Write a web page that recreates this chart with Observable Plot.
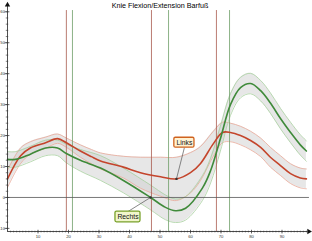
<!DOCTYPE html>
<html><head><meta charset="utf-8">
<script src="https://cdn.jsdelivr.net/npm/d3@7"></script>
<script src="https://cdn.jsdelivr.net/npm/@observablehq/plot@0.6"></script>
<style>body{margin:0;background:#fff}svg{display:block}</style>
</head><body><div id="chart"></div>
<script>
const title = "Knie Flexion/Extension Barfuß";
const xTicks = [10, 20, 30, 40, 50, 60, 70, 80, 90];
const yTicks = [-10, 0, 10, 20, 30, 40, 50, 60];
const xDomain = [0, 100];
const yDomain = [-11, 63];

// Links (red): % gait cycle, mean angle, standard deviation
const linksX    = [0, 4.3, 7.5, 12.5, 16.4, 19.3, 23.9, 27.5, 30.5, 38, 43.6, 50.2, 55.4, 60, 63.3, 67.5, 70.5, 73.1, 76.4, 79.7, 83, 86.2, 89.5, 92.8, 96, 98];
const linksMean = [6, 13.5, 16, 17.7, 19, 17.7, 15, 13.2, 11.8, 9.8, 8, 6.7, 6, 8, 11, 17.4, 21, 21, 20, 18.4, 16.2, 13, 10.3, 7.7, 6.3, 6];
const linksSd   = [2.8, 2.5, 2, 1.8, 1.5, 1.5, 2, 2.3, 2.6, 3.5, 5, 6.3, 7, 6.5, 5.5, 4, 3.3, 3, 3, 3, 3, 3.2, 3.2, 3.2, 3.2, 3.2];

// Rechts (green)
const rechtsX    = [0, 2.6, 7.5, 12.5, 16.4, 19.3, 23.9, 30.5, 38, 46.9, 51.8, 55.1, 58.4, 63.9, 66.6, 69.8, 73.1, 76.4, 79.7, 83, 86.2, 89.5, 92.8, 96, 98];
const rechtsMean = [12.3, 12.3, 14, 16, 16, 14.2, 12, 9.5, 5.5, 0, -3.2, -4.3, -3.5, 3, 8.7, 19, 30, 35.5, 36.8, 34.5, 30.5, 25.5, 21, 17, 15];
const rechtsSd   = [2.5, 2.5, 2.5, 2.5, 2.5, 3, 3.5, 4, 4, 4, 4, 3.8, 3.8, 4, 4, 4, 3.5, 3.3, 3.3, 3.3, 3.3, 3.3, 3.3, 3.3, 3.3];

// event lines
const linksEvents = [19.3, 47.2, 68.5];
const rechtsEvents = [21.3, 52.8, 72.8];

// annotations
const labelText = ["Links", "Rechts"];
const labelAnchorX = [55.4, 46.9];
const labelAnchorY = [6, 0];
const labelX = [58, 39.5];
const labelY = [17.7, -6.3];
const labelW = [6.6, 8.2];
const labelH = [3.2, 3.5];

const links = linksX.map((x, i) => ({x, m: linksMean[i], lo: linksMean[i] - linksSd[i], hi: linksMean[i] + linksSd[i]}));
const rechts = rechtsX.map((x, i) => ({x, m: rechtsMean[i], lo: rechtsMean[i] - rechtsSd[i], hi: rechtsMean[i] + rechtsSd[i]}));
const labels = labelText.map((t, i) => ({t, ax: labelAnchorX[i], ay: labelAnchorY[i], x: labelX[i], y: labelY[i], w: labelW[i], h: labelH[i]}));

const RED = "#c4452c", GREEN = "#3f8a3a";
const curve = "catmull-rom";

const chart = Plot.plot({
  width: 312, height: 241,
  marginLeft: 7, marginRight: 0, marginTop: 2, marginBottom: 10,
  style: {fontFamily: "'Liberation Sans', Arial, sans-serif", background: "#fff"},
  x: {domain: xDomain, axis: null},
  y: {domain: yDomain, axis: null},
  marks: [
    // bands
    Plot.areaY(links, {x: "x", y1: "lo", y2: "hi", fill: "#cfcfcf", fillOpacity: 0.5, curve}),
    Plot.areaY(rechts, {x: "x", y1: "lo", y2: "hi", fill: "#cfcfcf", fillOpacity: 0.5, curve}),
    Plot.line(links, {x: "x", y: "lo", stroke: "#e8a898", strokeWidth: 0.8, curve}),
    Plot.line(links, {x: "x", y: "hi", stroke: "#e8a898", strokeWidth: 0.8, curve}),
    Plot.line(rechts, {x: "x", y: "lo", stroke: "#a8d0a0", strokeWidth: 0.8, curve}),
    Plot.line(rechts, {x: "x", y: "hi", stroke: "#a8d0a0", strokeWidth: 0.8, curve}),
    // event lines
    Plot.ruleX(linksEvents, {y1: yDomain[0], y2: 60.4, stroke: "#a85a4e", strokeWidth: 0.8}),
    Plot.ruleX(rechtsEvents, {y1: yDomain[0], y2: 60.4, stroke: "#6e9e68", strokeWidth: 0.8}),
    // zero line
    Plot.ruleY([0], {x1: 0, x2: 99, stroke: "#555", strokeWidth: 0.8}),
    // means
    Plot.line(links, {x: "x", y: "m", stroke: RED, strokeWidth: 1.6, curve}),
    Plot.line(rechts, {x: "x", y: "m", stroke: GREEN, strokeWidth: 1.6, curve}),
    // axes
    Plot.ruleX([0], {y1: yDomain[0], y2: yDomain[1] - 1, stroke: "#222", strokeWidth: 0.8}),
    Plot.ruleY([yDomain[0]], {x1: 0, x2: xDomain[1] - 1.5, stroke: "#222", strokeWidth: 0.8}),
    Plot.dot([0], {x: 0, y: yDomain[1] - 0.8, symbol: "triangle", r: 2, fill: "#111", stroke: "none"}),
    Plot.dot([0], {x: xDomain[1] - 1.2, y: yDomain[0], symbol: "triangle", rotate: 90, r: 2, fill: "#111", stroke: "none"}),
    Plot.ruleY(d3.range(-10, 62, 2), {y: d => d, x1: -0.4, x2: 0.4, stroke: "#333", strokeWidth: 0.6}),
    Plot.ruleY(yTicks, {y: d => d, x1: -0.8, x2: 0.8, stroke: "#333", strokeWidth: 0.7}),
    Plot.text(yTicks, {x: 0, y: d => d, text: d => String(d), textAnchor: "end", dx: -2.5, fontSize: 4.2, fill: "#333"}),
    Plot.ruleX(d3.range(1, 99, 1), {x: d => d, y1: yDomain[0] - 0.45, y2: yDomain[0] + 0.1, stroke: "#333", strokeWidth: 0.6}),
    Plot.ruleX(xTicks, {x: d => d, y1: yDomain[0] - 0.8, y2: yDomain[0] + 0.4, stroke: "#333", strokeWidth: 0.7}),
    Plot.text(xTicks, {x: d => d, y: yDomain[0], text: d => String(d), dy: 5.5, fontSize: 4.2, fill: "#333"}),
    // annotations
    Plot.link(labels, {x1: "ax", y1: "ay", x2: "x", y2: d => d.y < d.ay ? d.y + d.h / 2 : d.y - d.h / 2, stroke: "#555", strokeWidth: 0.7}),
    Plot.dot(labels, {x: "ax", y: "ay", r: 1.2, fill: "#333"}),
    Plot.rect(labels, {x1: d => d.x - d.w / 2, x2: d => d.x + d.w / 2, y1: d => d.y - d.h / 2, y2: d => d.y + d.h / 2,
      fill: d => d.t === "Links" ? "#fff2d2" : "#f1f6cc", stroke: d => d.t === "Links" ? "#d0621e" : "#78a028", strokeWidth: 1.3, rx: 1.5}),
    Plot.text(labels, {x: "x", y: "y", text: "t", fontSize: 6.8, fill: "#111"}),
    // title
    Plot.text([title], {frameAnchor: "top", dy: 0, text: d => d, fontSize: 7.2, fill: "#000"})
  ]
});
document.getElementById("chart").appendChild(chart);
</script>
</body></html>
